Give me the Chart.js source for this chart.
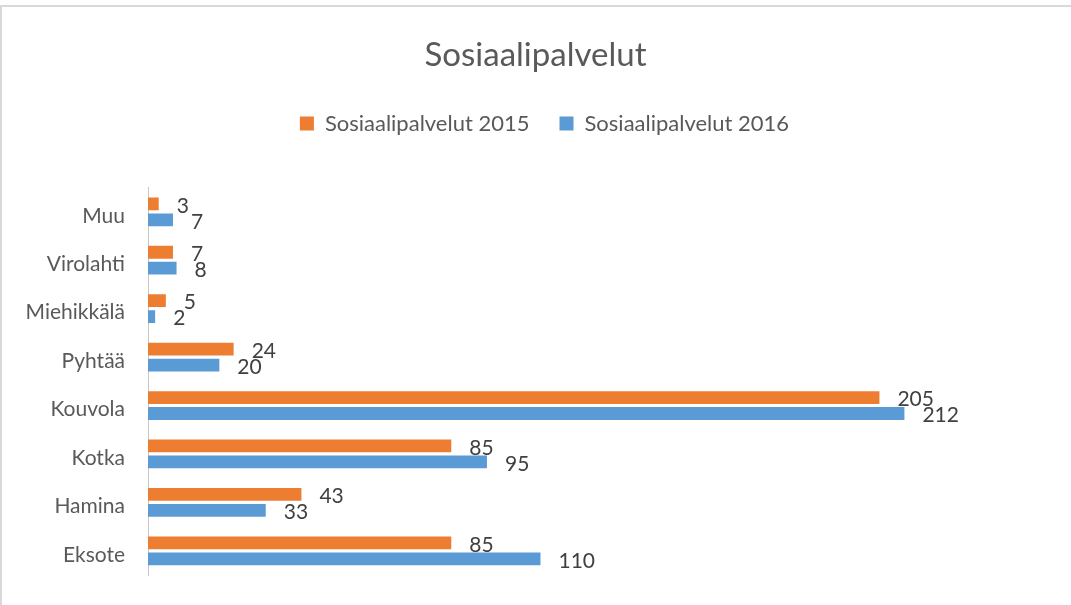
<!DOCTYPE html>
<html>
<head>
<meta charset="utf-8">
<script src="https://cdn.jsdelivr.net/npm/chart.js@4"></script>
<style>
body{margin:0;background:#fff;}
#frame{position:absolute;left:0;top:5px;width:1071px;height:600px;border-top:2px solid #d9d9d9;border-left:2px solid #d9d9d9;box-sizing:border-box;}
#wrap{position:absolute;left:0;top:0;width:1071px;height:605px;}
</style>
</head>
<body>
<div id="frame"></div>
<div id="wrap"><canvas id="chart"></canvas></div>
<script>
const categories=["Muu","Virolahti","Miehikkälä","Pyhtää","Kouvola","Kotka","Hamina","Eksote"];
const values2015=[3,7,5,24,205,85,43,85];
const values2016=[7,8,2,20,212,95,33,110];
const seriesNames=["Sosiaalipalvelut 2015","Sosiaalipalvelut 2016"];

const barLabels={
    id:"barLabels",
    afterDatasetsDraw(chart){
        const ctx=chart.ctx;
        ctx.save();
        ctx.font="21px Lato";
        ctx.fillStyle="#404040";
        ctx.textAlign="left";
        ctx.textBaseline="middle";
        chart.data.datasets.forEach((ds,i)=>{
            chart.getDatasetMeta(i).data.forEach((bar,j)=>{
                ctx.fillText(ds.data[j],bar.x+18,bar.y+2);
            });
        });
        ctx.restore();
    }
};

// more room under the legend; title and legend sit a bit right of the plot centre
const headerShift={
    id:"headerShift",
    beforeInit(chart){
        const fit=chart.legend.fit;
        chart.legend.fit=function(){
            fit.call(this);
            this.height+=43;
        };
    },
    afterLayout(chart){
        chart.titleBlock.left+=13;
        chart.titleBlock.right+=13;
        chart.legend.left+=22;
        chart.legend.right+=22;
    }
};

new Chart(document.getElementById("chart"),{
    type:"bar",
    data:{
        labels:categories,
        datasets:[
            {label:seriesNames[0],data:values2015,backgroundColor:"#ED7D31"},
            {label:seriesNames[1],data:values2016,backgroundColor:"#5B9BD5"}
        ]
    },
    options:{
        indexAxis:"y",
        responsive:true,
        maintainAspectRatio:false,
        animation:false,
        categoryPercentage:0.66,
        barPercentage:0.8,
        layout:{padding:{top:0,left:5,right:31,bottom:30}},
        plugins:{
            title:{
                display:true,
                text:"Sosiaalipalvelut",
                color:"#595959",
                font:{family:"Lato",size:33,weight:"normal"},
                padding:{top:36,bottom:7}
            },
            legend:{
                position:"top",
                labels:{
                    color:"#595959",
                    font:{family:"Lato",size:22},
                    boxWidth:14,
                    boxHeight:14,
                    padding:30
                }
            },
            tooltip:{enabled:false}
        },
        scales:{
            x:{display:false,min:0,max:250},
            y:{
                afterFit(scale){
                    scale.width=143;
                    scale.paddingTop=0;
                    scale.paddingBottom=0;
                },
                grid:{display:false,drawTicks:false},
                border:{display:true,color:"#c8c8c8",width:1},
                ticks:{color:"#595959",font:{family:"Lato",size:21},padding:23,labelOffset:4}
            }
        }
    },
    plugins:[barLabels,headerShift]
});
</script>
</body>
</html>
